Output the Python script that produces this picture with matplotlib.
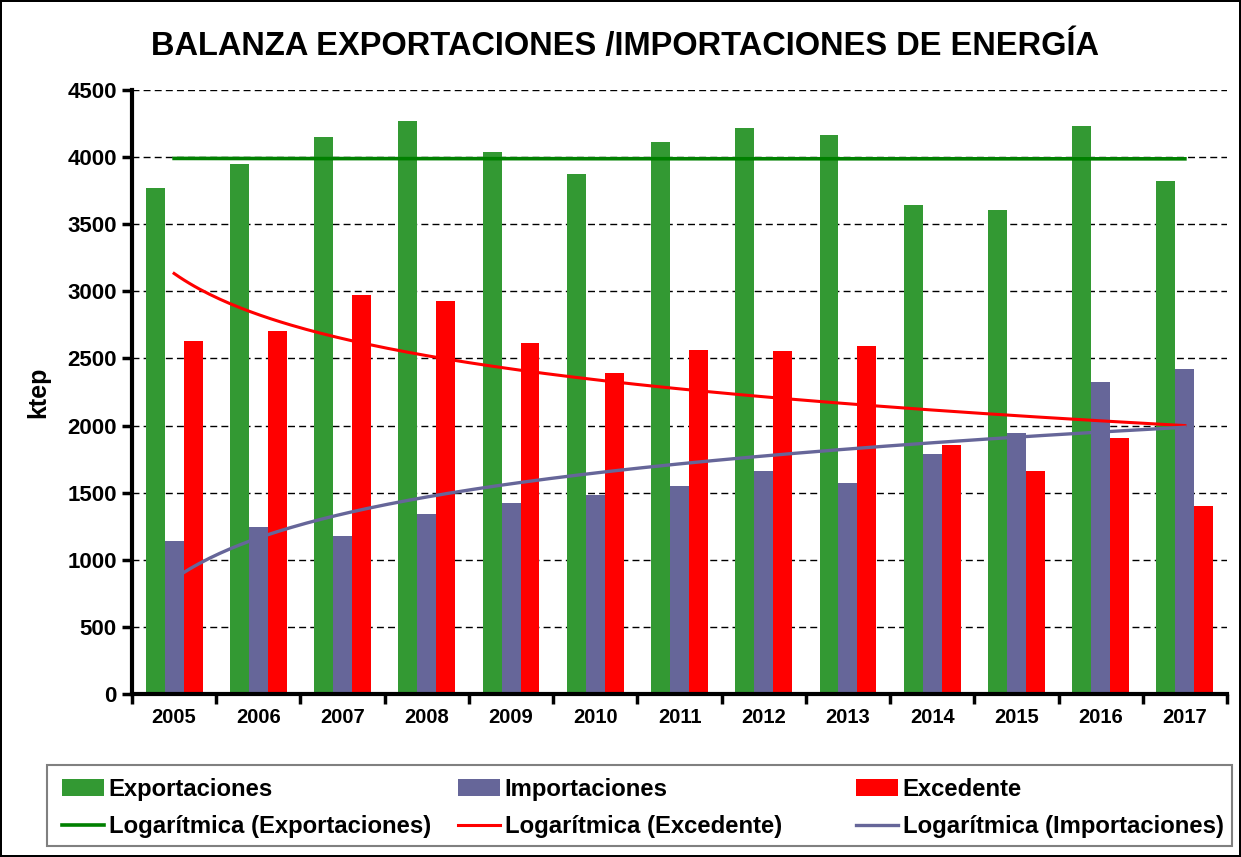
import numpy as np
import matplotlib
matplotlib.use("Agg")
import matplotlib.pyplot as plt
from matplotlib.patches import Rectangle

plt.rcParams['font.family'] = ['Liberation Sans', 'DejaVu Sans']
plt.rcParams['font.weight'] = 'bold'

years = ['2005', '2006', '2007', '2008', '2009', '2010', '2011',
         '2012', '2013', '2014', '2015', '2016', '2017']
exportaciones = [3768, 3949, 4150, 4269, 4038, 3874, 4113, 4217, 4165, 3643, 3606, 4232, 3822]
importaciones = [1140, 1247, 1180, 1341, 1423, 1483, 1550, 1664, 1572, 1788, 1945, 2325, 2421]
excedente = [2628, 2702, 2970, 2928, 2615, 2391, 2563, 2553, 2593, 1855, 1661, 1907, 1401]

c_exp = '#339933'
c_imp = '#666699'
c_exc = '#ff0000'

W, H = 1241, 857
fig = plt.figure(figsize=(W / 100, H / 100), dpi=100)
fig.patch.set_edgecolor('black')
fig.patch.set_linewidth(1.5)
ax = fig.add_axes([132 / W, 1 - 694 / H, (1227 - 132) / W, (694 - 90) / H])

x = np.arange(len(years))
bw = 0.225
b1 = ax.bar(x - bw, exportaciones, bw, color=c_exp, label='Exportaciones', zorder=2)
b2 = ax.bar(x, importaciones, bw, color=c_imp, label='Importaciones', zorder=2)
b3 = ax.bar(x + bw, excedente, bw, color=c_exc, label='Excedente', zorder=2)

# logarithmic trendlines (Excel style, x = 1..n)
xs = np.linspace(0, len(years) - 1, 200)
def log_trend(vals):
    k = np.log(np.arange(1, len(vals) + 1))
    b, a = np.polyfit(k, vals, 1)
    return a + b * np.log(xs + 1)

l1, = ax.plot(xs, log_trend(exportaciones), color='#008000', lw=2.6, zorder=3,
              label='Logarítmica (Exportaciones)')
l2, = ax.plot(xs, log_trend(excedente), color='#ff0000', lw=2.2, zorder=3,
              label='Logarítmica (Excedente)')
l3, = ax.plot(xs, log_trend(importaciones), color=c_imp, lw=2.4, zorder=3,
              label='Logarítmica (Importaciones)')

ax.set_xlim(-0.5, len(years) - 0.5)
ax.set_ylim(0, 4500)
ax.set_yticks(np.arange(0, 4501, 500))
ax.set_xticks(x)
ax.set_xticklabels(years)
ax.set_xticks(np.arange(-0.5, len(years)), minor=True)
ax.tick_params(axis='x', which='major', length=0, pad=10, labelsize=14.5)
ax.tick_params(axis='x', which='minor', length=7, width=2.5, direction='out')
ax.tick_params(axis='y', length=7, width=2.5, pad=4, labelsize=16)
ax.yaxis.grid(True, color='black', linestyle=(0, (5, 3)), linewidth=1, zorder=0)
ax.set_axisbelow(True)
for s in ['top', 'right']:
    ax.spines[s].set_visible(False)
for s in ['left', 'bottom']:
    ax.spines[s].set_linewidth(3)

ax.set_ylabel('ktep', fontsize=18, fontweight='bold', labelpad=12)
fig.text(625 / W, 1 - 47 / H, 'BALANZA EXPORTACIONES /IMPORTACIONES DE ENERGÍA',
         ha='center', va='center', fontsize=23.5, fontweight='bold')

# legend frame and three columns
fig.patches.append(Rectangle((47 / W, 1 - 846 / H), (1232 - 47) / W, (846 - 765) / H,
                             transform=fig.transFigure, fill=False,
                             edgecolor='#808080', linewidth=1.5))
cols = [([b1, l1], 62), ([b2, l2], 458), ([b3, l3], 856)]
for handles, xpos in cols:
    leg = fig.legend(handles=handles, loc='upper left',
                     bbox_to_anchor=(xpos / W, 1 - 778 / H), frameon=False,
                     borderpad=0, borderaxespad=0,
                     handlelength=1.75, handletextpad=0.2, labelspacing=0.6,
                     prop={'weight': 'bold', 'size': 17.2})

fig.savefig('out.png', dpi=100)
